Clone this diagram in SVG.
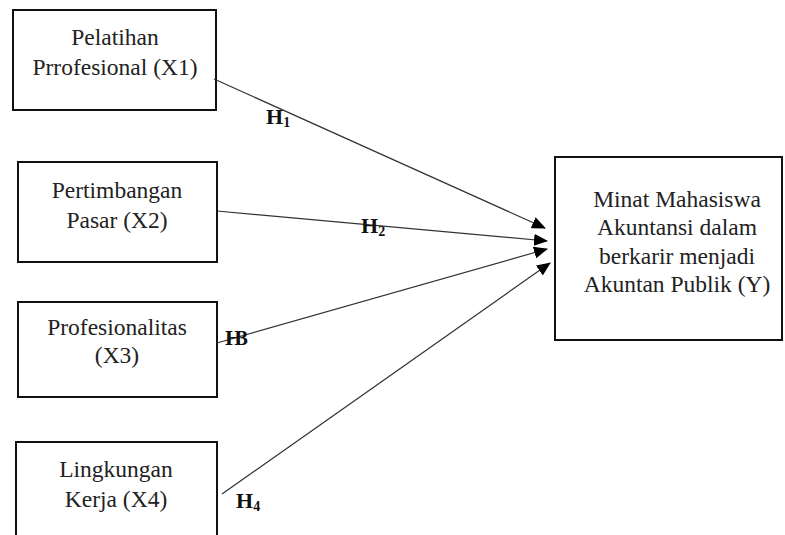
<svg xmlns="http://www.w3.org/2000/svg" width="785" height="535" viewBox="0 0 785 535">
<style>
.box{fill:#fff;stroke:#111;stroke-width:2}
.t{font-family:"Liberation Serif","Times New Roman",serif;font-size:23.5px;fill:#222;text-anchor:middle}
.h{font-family:"Liberation Serif","Times New Roman",serif;font-size:22px;font-weight:bold;fill:#111}
.sub{font-size:14px}
.ln{stroke:#333;stroke-width:1.2;fill:none}
</style>
<defs>
<marker id="ah" markerUnits="userSpaceOnUse" markerWidth="14" markerHeight="12" refX="13" refY="6" orient="auto">
<path d="M0,0 L14,6 L0,12 Z" fill="#000"/>
</marker>
</defs>
<rect width="785" height="535" fill="#fff"/>
<g id="n1">
<rect class="box" x="13" y="10" width="203" height="100"/>
<text class="t" x="115" y="45">Pelatihan</text>
<text class="t" x="115" y="75">Prrofesional (X1)</text>
</g>
<g id="n2">
<rect class="box" x="18" y="162" width="199" height="100"/>
<text class="t" x="117" y="198">Pertimbangan</text>
<text class="t" x="117" y="228">Pasar (X2)</text>
</g>
<g id="n3">
<rect class="box" x="18" y="302" width="199" height="95"/>
<text class="t" x="117" y="335">Profesionalitas</text>
<text class="t" x="117" y="363">(X3)</text>
</g>
<g id="n4">
<rect class="box" x="16" y="442" width="201" height="110"/>
<text class="t" x="116" y="477">Lingkungan</text>
<text class="t" x="116" y="507">Kerja (X4)</text>
</g>
<g id="ny">
<rect class="box" x="555" y="157" width="227" height="183"/>
<text class="t" x="677" y="207">Minat Mahasiswa</text>
<text class="t" x="677" y="235">Akuntansi dalam</text>
<text class="t" x="677" y="264">berkarir menjadi</text>
<text class="t" x="677" y="292">Akuntan Publik (Y)</text>
</g>
<g id="connectors">
<line class="ln" x1="214" y1="79" x2="545" y2="228" marker-end="url(#ah)"/>
<line class="ln" x1="217" y1="211" x2="547" y2="241" marker-end="url(#ah)"/>
<line class="ln" x1="217" y1="343" x2="547" y2="249" marker-end="url(#ah)"/>
<line class="ln" x1="222" y1="494" x2="550" y2="263" marker-end="url(#ah)"/>
</g>
<g id="labels">
<text class="h" x="266" y="124">H<tspan class="sub" dy="3">1</tspan></text>
<text class="h" x="361" y="233">H<tspan class="sub" dy="3">2</tspan></text>
<text class="h" x="225" y="345" letter-spacing="-5">H3</text>
<text class="h" x="236" y="508">H<tspan class="sub" dy="3">4</tspan></text>
</g>
</svg>
